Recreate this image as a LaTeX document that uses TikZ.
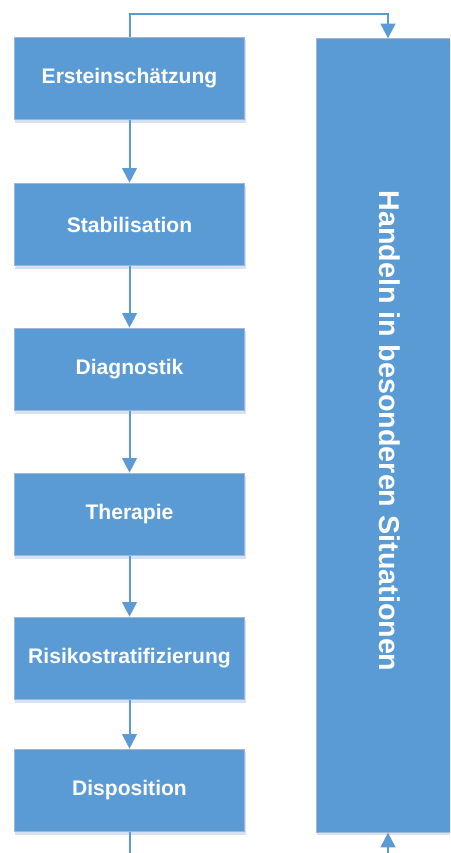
\documentclass[tikz,border=0pt]{standalone}
\usepackage{fontspec}
\setmainfont{Liberation Sans}
\usetikzlibrary{arrows.meta,positioning,shadows}
\definecolor{stageblue}{RGB}{91,155,213}
\definecolor{stageedge}{RGB}{160,182,210}
\definecolor{shadeblue}{RGB}{214,226,241}
\tikzset{
  stage/.style={draw=stageedge, line width=0.7pt, fill=stageblue,
                minimum width=173pt, minimum height=62pt,
                inner sep=0pt, text=white, font=\fontsize{15.8}{18}\selectfont\bfseries,
                general shadow={fill=shadeblue, shadow xshift=0.8pt, shadow yshift=-2.3pt}},
  sidebox/.style={stage, minimum width=108pt, minimum height=595pt,
                  font=\fontsize{21.5}{24}\selectfont\bfseries},
  flow/.style={-{Triangle[length=11pt,width=11pt]}, line width=1.5pt, draw=stageblue},
}
\begin{document}
\begin{tikzpicture}[x=0.75pt,y=0.75pt]
  \path[use as bounding box] (0,0) rectangle (450,853);
  \clip (0,0) rectangle (450,853);

  % main chain of the care process
  \node[stage] (erst)  at (129.5,774.5) {Ersteinschätzung};
  \node[stage] (stab)  at (129.5,628.5) {Stabilisation};
  \node[stage] (diag)  at (129.5,483.5) {Diagnostik};
  \node[stage] (ther)  at (129.5,338.5) {Therapie};
  \node[stage] (risk)  at (129.5,194.5) {Risikostratifizierung};
  \node[stage] (disp)  at (129.5,62.5)  {Disposition};

  % the column at the right, text read top to bottom
  \node[sidebox] (special) at (388,417.5) {};
  \node[text=white, font=\fontsize{21.5}{24}\selectfont\bfseries, rotate=-90]
    (speciallab) at (390,422) {Handeln in besonderen Situationen};

  \draw[flow] (erst) -- (stab);
  \draw[flow] (stab) -- (diag);
  \draw[flow] (diag) -- (ther);
  \draw[flow] (ther) -- (risk);
  \draw[flow] (risk) -- (disp);

  % loops to the right column, the lower one runs below the page
  \coordinate (topbend) at (129.5,839);
  \coordinate (lowbend) at (129.5,-20);
  \draw[flow] (erst.north) -- (topbend) -| (special.north);
  \draw[flow] (disp.south) -- (lowbend) -| (special.south);
\end{tikzpicture}
\end{document}
